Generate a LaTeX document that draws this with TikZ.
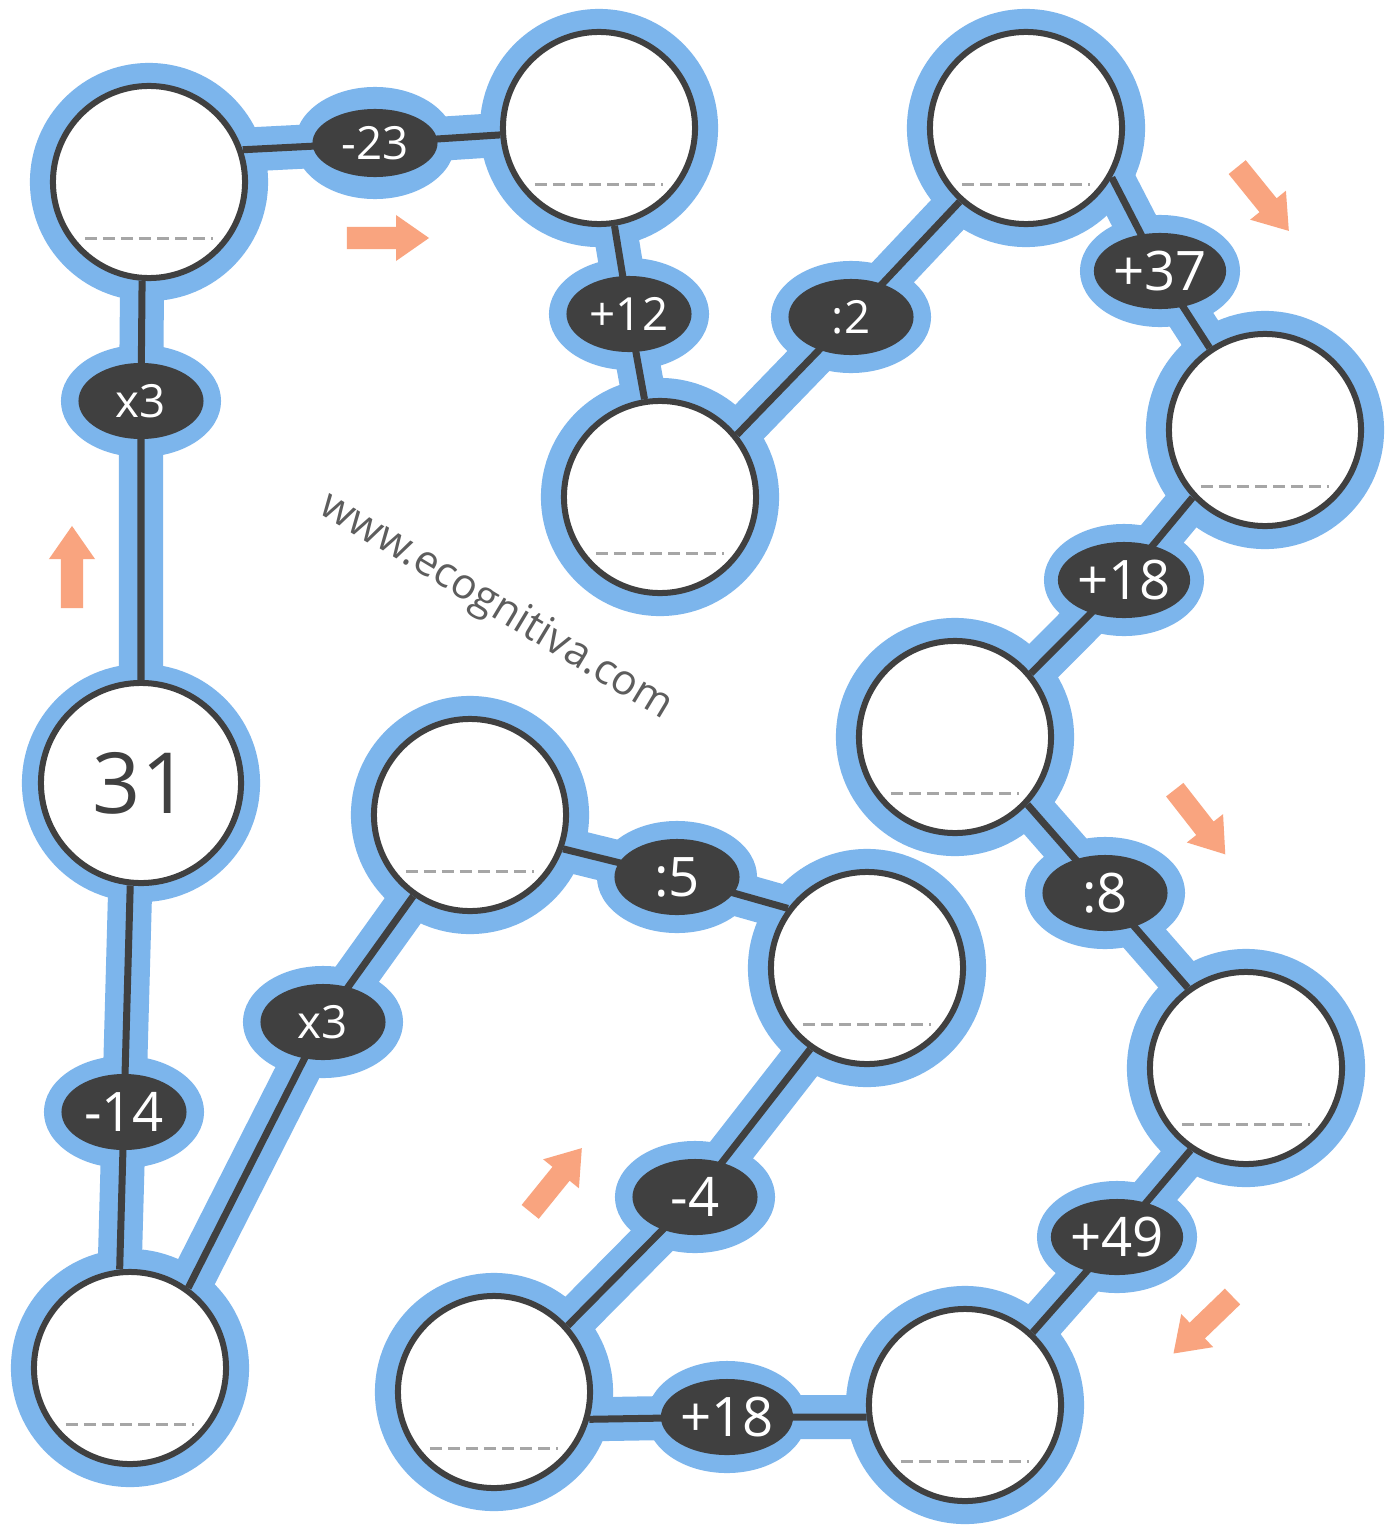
\documentclass[tikz,border=0pt]{standalone}
\usepackage{fontspec}
\setmainfont{Open Sans}
\usetikzlibrary{shapes.geometric}

\definecolor{ringblue}{HTML}{7CB5EC}
\definecolor{inkgray}{HTML}{404040}
\definecolor{arrowpeach}{HTML}{F9A47F}

\pgfdeclarelayer{background}
\pgfsetlayers{background,main}

% circle / operation / circle
\def\links{c1.90/o1/c2.-94, c2.19/o2/c3.184, c3.-81/o3/c4.99, c4.39/o4/c5.228,
  c5.-30/o5/c6.124, c6.223/o6/c7.40, c7.-43/o7/c8.126, c8.236/o8/c9.47,
  c9.187/o9/c10.-16, c10.42/o10/c11.235, c11.143/o11/c12.-20,
  c12.235/o12/c13.54, c13.96/o13/c1.264}

\begin{document}
\begin{tikzpicture}[x=0.01cm,y=-0.01cm,
  cell/.style={circle,draw=inkgray,line width=0.06cm,fill=white,
    minimum size=1.92cm,inner sep=0pt,text=inkgray},
  oper/.style={ellipse,fill=inkgray,text=white,minimum width=1.25cm,
    minimum height=0.76cm,inner sep=0pt,font=\fontsize{15.5}{18}\selectfont},
  oper small/.style={oper,font=\fontsize{13}{16}\selectfont},
  band/.style={ringblue,line width=0.44cm,line join=round},
  wire/.style={inkgray,line width=0.07cm},
  answer/.style={gray!70,line width=0.03cm,dash pattern=on 0.12cm off 0.06cm},
  flowarrow/.pic={\fill[arrowpeach] (-0.41cm,-0.11cm) -- (0.08cm,-0.11cm)
    -- (0.08cm,-0.23cm) -- (0.41cm,0cm) -- (0.08cm,0.23cm)
    -- (0.08cm,0.11cm) -- (-0.41cm,0.11cm) -- cycle;}]

  % Cerchi
  \node[cell,minimum size=2cm,font=\fontsize{24}{28}\selectfont] (c1) at (141,783) {31};
  \node[cell] (c2) at (149,182) {};
  \node[cell] (c3) at (599,128) {};
  \node[cell] (c4) at (660,497) {};
  \node[cell] (c5) at (1026,128) {};
  \node[cell] (c6) at (1265,430) {};
  \node[cell] (c7) at (955,737) {};
  \node[cell] (c8) at (1246,1068) {};
  \node[cell] (c9) at (965,1405) {};
  \node[cell] (c10) at (494,1392) {};
  \node[cell] (c11) at (867,968) {};
  \node[cell] (c12) at (470,815) {};
  \node[cell] (c13) at (130,1368) {};

  % Operazioni
  \node[oper small] (o1) at (141,401) {x3};
  \node[oper small,minimum height=0.68cm] (o2) at (375,143) {-23};
  \node[oper small] (o3) at (629,314) {+12};
  \node[oper small] (o4) at (851,317) {:2};
  \node[oper] (o5) at (1160,271) {+37};
  \node[oper] (o6) at (1124,580) {+18};
  \node[oper] (o7) at (1105,893) {:8};
  \node[oper] (o8) at (1117,1237) {+49};
  \node[oper] (o9) at (727,1417) {+18};
  \node[oper] (o10) at (695,1197) {-4};
  \node[oper] (o11) at (677,877) {:5};
  \node[oper small] (o12) at (323,1022) {x3};
  \node[oper] (o13) at (124,1112) {-14};

  % Righe per le risposte
  \foreach \i in {2,...,13}
    \draw[answer] ([xshift=-0.64cm,yshift=-0.56cm]c\i.center)
      -- ([xshift=0.64cm,yshift=-0.56cm]c\i.center);

  % Sfondo e collegamenti
  \begin{pgfonlayer}{background}
    \fill[white] (0,0) rectangle (1399,1530);
    \foreach \a/\o/\b in \links
      \draw[band] (\a) -- (\o.center) -- (\b);
    \foreach \i in {1,...,13}
      \fill[ringblue] (c\i.center) circle (1.19cm);
    \foreach \i in {1,...,13}
      \fill[ringblue] (o\i.center) ellipse [x radius=0.80cm, y radius=0.56cm];
    \foreach \a/\o/\b in \links
      \draw[wire] (\a) -- (\o.center) -- (\b);
  \end{pgfonlayer}

  % Frecce
  \pic[rotate=0] at (388,238) {flowarrow};
  \pic[rotate=90] at (72,567) {flowarrow};
  \pic[rotate=-51] at (1263,199) {flowarrow};
  \pic[rotate=-52] at (1200,822) {flowarrow};
  \pic[rotate=224] at (1203,1325) {flowarrow};
  \pic[rotate=51] at (556,1180) {flowarrow};

  \node[rotate=-31,text=inkgray!85,font=\fontsize{12}{14}\selectfont] (web)
    at (496,607) {www.ecognitiva.com};

\end{tikzpicture}
\end{document}
